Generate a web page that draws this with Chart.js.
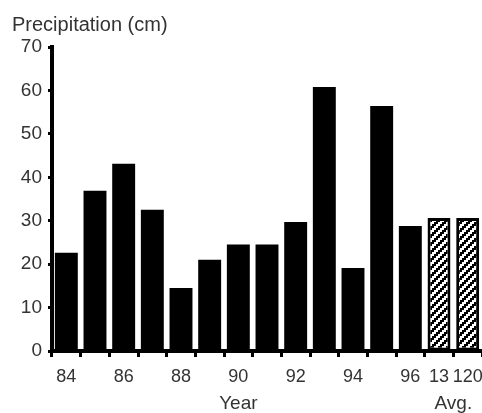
<!DOCTYPE html>
<html>
<head>
<meta charset="utf-8">
<script src="https://cdn.jsdelivr.net/npm/chart.js@4"></script>
<style>
  body { margin: 0; background: #fff; }
</style>
</head>
<body>
<canvas id="chart" width="482" height="413"></canvas>
<script>
// categories: years 1984-1996, then the two averages (13 yr and 120 yr)
const categories = ['84', '85', '86', '87', '88', '89', '90', '91', '92', '93', '94', '95', '96', '13', '120'];
const tickLabels = ['84', '', '86', '', '88', '', '90', '', '92', '', '94', '', '96', '13', '120'];
const precipitation = [22.6, 36.9, 43.1, 32.5, 14.5, 21.0, 24.5, 24.5, 29.7, 60.8, 19.1, 56.4, 28.8, 30.6, 30.6];
const isAverage = [false, false, false, false, false, false, false, false, false, false, false, false, false, true, true];
const yTicks = [0, 10, 20, 30, 40, 50, 60, 70];

function makePattern() {
  const c = document.createElement('canvas');
  c.width = 8; c.height = 8;
  const g = c.getContext('2d');
  g.fillStyle = '#fff';
  g.fillRect(0, 0, 8, 8);
  g.fillStyle = '#000';
  for (let i = 0; i < 4; i++) {
    for (let j = 0; j < 4; j++) {
      if ((i + j) % 4 < 2) g.fillRect(j * 2, i * 2, 2, 2);
    }
  }
  return g.createPattern(c, 'repeat');
}

const ctx = document.getElementById('chart');
const hatch = makePattern();

const extraText = {
  id: 'extraText',
  afterDraw(chart) {
    const g = chart.ctx;
    const x = chart.scales.x;
    g.save();
    g.fillStyle = '#333';
    g.font = '20px "Liberation Sans", Arial, sans-serif';
    g.textAlign = 'left';
    g.textBaseline = 'alphabetic';
    g.fillText('Precipitation (cm)', 12, 31);
    g.font = '19px "Liberation Sans", Arial, sans-serif';
    g.textAlign = 'center';
    g.fillText('Year', x.getPixelForValue(6), 409);
    g.fillText('Avg.', (x.getPixelForValue(13) + x.getPixelForValue(14)) / 2, 409);
    g.restore();
  }
};

new Chart(ctx, {
  type: 'bar',
  data: {
    labels: categories,
    datasets: [{
      data: precipitation,
      backgroundColor: isAverage.map(a => a ? hatch : '#000'),
      borderColor: '#000',
      borderWidth: isAverage.map(a => a ? 3 : 0),
      borderSkipped: false,
      barPercentage: 0.8,
      categoryPercentage: 1.0
    }]
  },
  options: {
    responsive: false,
    animation: false,
    devicePixelRatio: 1,
    layout: { padding: { top: 47, left: 0, right: 0, bottom: 0 } },
    plugins: {
      legend: { display: false },
      tooltip: { enabled: false }
    },
    scales: {
      x: {
        afterFit: s => { s.height = 62; s.paddingLeft = 0; s.paddingRight = 0; },
        grid: { drawOnChartArea: false, tickLength: 6, tickWidth: 3, tickColor: '#000', offset: true },
        border: { color: '#000', width: 4 },
        ticks: {
          autoSkip: false,
          maxRotation: 0,
          padding: 9,
          color: '#333',
          font: { family: '"Liberation Sans", Arial, sans-serif', size: 18 },
          callback: (v, i) => tickLabels[i]
        }
      },
      y: {
        min: 0,
        max: 70,
        afterFit: s => { s.width = 52; },
        afterBuildTicks: s => { s.ticks = yTicks.map(v => ({ value: v })); },
        grid: { drawOnChartArea: false, tickLength: 4, tickWidth: 3, tickColor: '#000' },
        border: { color: '#000', width: 4 },
        ticks: {
          padding: 6,
          color: '#333',
          font: { family: '"Liberation Sans", Arial, sans-serif', size: 19 }
        }
      }
    }
  },
  plugins: [extraText]
});
</script>
</body>
</html>
